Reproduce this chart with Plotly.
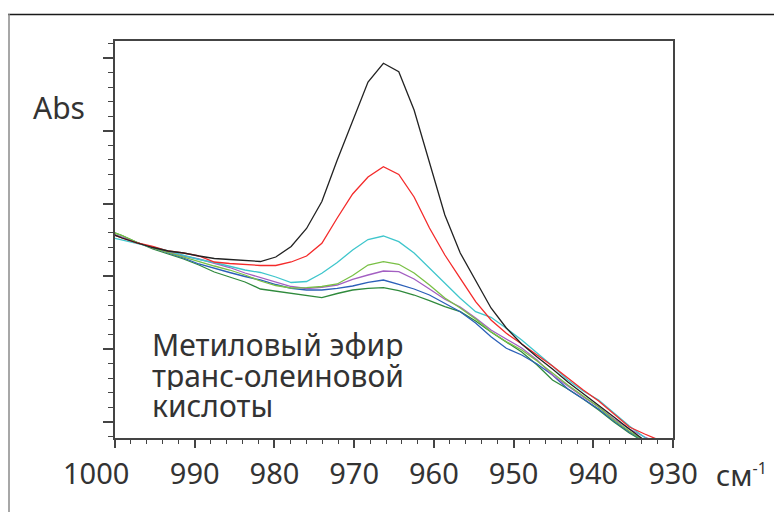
import plotly.graph_objects as go

wavenumber = [1001.04, 999.12, 997.19, 995.26, 993.33, 991.40, 989.47, 987.54, 985.62, 983.69,
              981.76, 979.83, 977.90, 975.97, 974.05, 972.12, 970.19, 968.26, 966.33, 964.40,
              962.48, 960.55, 958.62, 956.69, 954.76, 952.83, 950.91, 948.98, 947.05, 945.12,
              943.19, 941.26, 939.33, 937.41, 935.48, 933.55, 931.62, 929.69]

abs_black = [.206, .200, .195, .1905, .187, .185, .182, .1795, .1785, .1775,
             .1765, .181, .1915, .2095, .2365, .278, .318, .356, .3747, .3663,
             .328, .275, .223, .185, .157, .130, .110, .094, .081, .069,
             .056, .044, .032, .021, .009, -.002, -.014, -.026]
abs_red = [.206, .200, .195, .1915, .187, .185, .182, .176, .1745, .1735,
           .1725, .1725, .176, .182, .1947, .220, .244, .261, .2713, .2635,
           .241, .210, .183, .1597, .1363, .118, .1047, .094, .083, .072,
           .060, .048, .037, .024, .011, .004, -.0025, -.009]
abs_cyan = [.2015, .198, .195, .191, .187, .183, .1785, .1755, .172, .168,
            .1655, .161, .1555, .1565, .1647, .1755, .188, .1985, .202, .1963,
            .185, .170, .155, .1397, .1263, .1207, .1097, .098, .085, .072,
            .058, .047, .038, .025, .012, .0005, -.009, -.020]
abs_lgreen = [.208, .2025, .1955, .190, .1855, .181, .176, .172, .168, .163,
              .157, .1525, .150, .1503, .1515, .154, .1625, .173, .1763, .1737,
              .165, .153, .140, .130, .119, .1063, .0963, .088, .077, .065,
              .053, .042, .031, .018, .007, -.003, -.014, -.026]
abs_purple = [.206, .2005, .195, .190, .186, .182, .179, .175, .1705, .165,
              .1605, .156, .1515, .1495, .1507, .153, .1587, .163, .167, .1663,
              .159, .149, .1387, .131, .120, .108, .0987, .090, .078, .063,
              .052, .041, .031, .019, .009, .001, -.006, -.014]
abs_blue = [.206, .2005, .195, .190, .185, .180, .174, .1695, .1655, .1615,
            .158, .1535, .1497, .148, .148, .1497, .152, .1557, .158, .1537,
            .149, .143, .1347, .1263, .115, .1013, .0897, .083, .074, .063,
            .049, .039, .029, .017, .006, -.003, -.014, -.026]
abs_dgreen = [.208, .2025, .1955, .189, .184, .179, .173, .166, .161, .156,
              .149, .147, .1447, .143, .1403, .1445, .148, .1497, .1503, .1473,
              .143, .1373, .1313, .1263, .117, .106, .096, .086, .073, .058,
              .049, .039, .028, .016, .005, -.004, -.016, -.028]

series = [
    ("dgreen", abs_dgreen, "#2f8a3c"),
    ("blue", abs_blue, "#2b5fb8"),
    ("purple", abs_purple, "#a35fc2"),
    ("lgreen", abs_lgreen, "#79c045"),
    ("cyan", abs_cyan, "#3fc6cc"),
    ("red", abs_red, "#f42a2a"),
    ("black", abs_black, "#222222"),
]

x_ticks = [1000, 990, 980, 970, 960, 950, 940, 930]
x_ticktext = ["1000\u00a0\u00a0\u00a0\u00a0\u00a0", "990", "980", "970", "960", "950", "940", "930"]

FONT = "Noto Sans"
TXT = "#333333"

# page body has an 8 px margin: size the figure to fill the window exactly
OFF = 8
W, H = 782 - OFF, 512 - OFF
# plot area in page pixels
L, R, T, B = 115 - OFF, 673 - OFF, 41 - OFF, 438 - OFF


def px_x(page_x):
    return (page_x - OFF - L) / (R - L)


def px_y(page_y):
    return (B - (page_y - OFF)) / (B - T)


fig = go.Figure()
for name, ys, col in series:
    fig.add_trace(go.Scatter(x=wavenumber, y=ys, mode="lines", name=name,
                             line=dict(color=col, width=1.3), showlegend=False,
                             hoverinfo="skip"))

fig.update_layout(
    width=W, height=H,
    margin=dict(l=L, r=W - R, t=T, b=H - B, pad=0, autoexpand=False),
    paper_bgcolor="white", plot_bgcolor="white",
    font=dict(family=FONT, color=TXT),
    xaxis=dict(range=[1000, 930], tickvals=x_ticks, ticktext=x_ticktext,
               ticks="outside", ticklen=8, tickwidth=1.5, tickcolor="#444",
               showline=True, linecolor="#444", linewidth=1.5, mirror=True,
               showgrid=False, zeroline=False, automargin=False,
               tickfont=dict(size=29, color=TXT, family=FONT),
               ticklabelstandoff=1,
               minor=dict(dtick=2, ticks="outside", ticklen=4, tickwidth=1.2,
                          tickcolor="#444", showgrid=False)),
    yaxis=dict(range=[0, 0.397], tick0=0.0163, dtick=0.0727,
               ticks="outside", ticklen=10, tickwidth=1.5, tickcolor="#444",
               showticklabels=False, automargin=False,
               showline=True, linecolor="#444", linewidth=1.5, mirror=True,
               showgrid=False, zeroline=False,
               minor=dict(dtick=0.01454, tick0=0.0163, ticks="outside", ticklen=5,
                          tickwidth=1.2, tickcolor="#444", showgrid=False)),
)

# outer frame (top and left edges)
fig.add_shape(type="line", xref="paper", yref="paper",
              x0=px_x(8), x1=px_x(782), y0=px_y(14.5), y1=px_y(14.5),
              line=dict(color="#1a1a1a", width=1.5))
fig.add_shape(type="line", xref="paper", yref="paper",
              x0=px_x(9), x1=px_x(9), y0=px_y(14), y1=px_y(512),
              line=dict(color="#8a8a8a", width=1.5))

fig.add_annotation(text="Abs", xref="paper", yref="paper", x=px_x(59), y=px_y(107),
                   xanchor="center", yanchor="middle", showarrow=False,
                   font=dict(size=30, color=TXT, family=FONT))
fig.add_annotation(text="см<sup><span style='font-size:16px'>-1</span></sup>",
                   xref="paper", yref="paper", x=px_x(714), y=px_y(474),
                   xanchor="left", yanchor="middle", showarrow=False,
                   font=dict(size=29, color=TXT, family=FONT))

label_lines = ["Метиловый эфир", "транс-олеиновой", "кислоты"]
label_y = [344, 375, 405]
for t, yy in zip(label_lines, label_y):
    fig.add_annotation(text=t, xref="paper", yref="paper", x=px_x(150), y=px_y(yy),
                       xanchor="left", yanchor="middle", showarrow=False,
                       height=30, valign="middle",
                       font=dict(size=30, color=TXT, family=FONT))

fig.write_html("out.html")
